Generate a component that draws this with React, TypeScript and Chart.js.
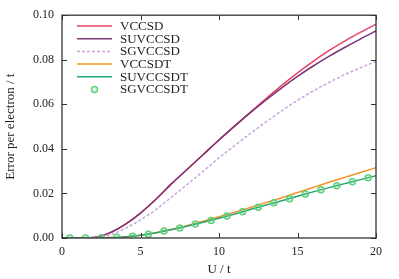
import React, { useEffect, useRef } from "react";
import { Chart, registerables } from "chart.js";

Chart.register(...registerables);

const U_LINE = [0, 1, 2, 3, 4, 5, 6, 7, 8, 9, 10, 11, 12, 13, 14, 15, 16, 17, 18, 19, 20];
const VCCSD = [0, 0, 0.0002, 0.0022, 0.006, 0.0112, 0.0175, 0.0245, 0.031, 0.0375, 0.044, 0.0503, 0.0565, 0.0626, 0.0685, 0.0741, 0.0793, 0.0841, 0.0884, 0.0923, 0.096];
const SUVCCSD = [0, 0, 0.0002, 0.0022, 0.006, 0.0112, 0.0175, 0.0245, 0.031, 0.0375, 0.044, 0.0502, 0.0563, 0.062, 0.0674, 0.0725, 0.0772, 0.0815, 0.0855, 0.0893, 0.0929];
const SGVCCSD = [0, 0, 0.0001, 0.0012, 0.0042, 0.0081, 0.0129, 0.0185, 0.0242, 0.03, 0.036, 0.0415, 0.0469, 0.0521, 0.0571, 0.0618, 0.066, 0.0698, 0.0733, 0.0764, 0.0792];
const VCCSDT = [0, 0, 0, 0.0002, 0.0005, 0.0012, 0.0024, 0.0039, 0.0056, 0.0075, 0.0095, 0.0116, 0.0137, 0.0159, 0.0181, 0.0204, 0.0227, 0.025, 0.0272, 0.0294, 0.0315];
const SUVCCSDT = [0, 0, 0, 0.0001, 0.0005, 0.0012, 0.0024, 0.0038, 0.0054, 0.0071, 0.0089, 0.0108, 0.0128, 0.0148, 0.0167, 0.0187, 0.0207, 0.0226, 0.0244, 0.0262, 0.028];
const U_PTS = [0.5, 1.5, 2.5, 3.5, 4.5, 5.5, 6.5, 7.5, 8.5, 9.5, 10.5, 11.5, 12.5, 13.5, 14.5, 15.5, 16.5, 17.5, 18.5, 19.5];
const SGVCCSDT = [0, 0, 0.0001, 0.0003, 0.0008, 0.0017, 0.0031, 0.0045, 0.0063, 0.0079, 0.0099, 0.0118, 0.0138, 0.0158, 0.0176, 0.0197, 0.0217, 0.0235, 0.0252, 0.027];

const X_TICKS = [0, 5, 10, 15, 20];
const Y_TICKS = [0, 0.02, 0.04, 0.06, 0.08, 0.1];

const FONT = "'Liberation Serif', 'DejaVu Serif', serif";
const TEXT = "#222";

const toXY = (xs: number[], ys: number[]) => xs.map((x, i) => ({ x, y: ys[i] }));

const frameAndLegend = {
  id: "frameAndLegend",
  afterDraw(chart: any) {
    const { ctx, chartArea: a, scales } = chart;
    const xs = scales.x;
    const ys = scales.y;
    ctx.save();
    ctx.strokeStyle = "#333";
    ctx.lineWidth = 1.3;
    ctx.strokeRect(a.left, a.top, a.right - a.left, a.bottom - a.top);
    ctx.lineWidth = 1;
    const tl = 5;
    ctx.beginPath();
    X_TICKS.forEach((v) => {
      const px = Math.round(xs.getPixelForValue(v)) + 0.5;
      ctx.moveTo(px, a.bottom);
      ctx.lineTo(px, a.bottom - tl);
      ctx.moveTo(px, a.top);
      ctx.lineTo(px, a.top + tl);
    });
    Y_TICKS.forEach((v) => {
      const py = Math.round(ys.getPixelForValue(v)) + 0.5;
      ctx.moveTo(a.left, py);
      ctx.lineTo(a.left + tl, py);
      ctx.moveTo(a.right, py);
      ctx.lineTo(a.right - tl, py);
    });
    ctx.stroke();

    // legend
    const x0 = 77, x1 = 112, tx = 120, y0 = 26, dy = 12.7;
    ctx.font = `13px ${FONT}`;
    ctx.textBaseline = "middle";
    ctx.textAlign = "left";
    chart.data.datasets.forEach((ds: any, i: number) => {
      const y = y0 + dy * i;
      if (ds.showLine === false) {
        ctx.beginPath();
        ctx.setLineDash([]);
        ctx.lineWidth = ds.borderWidth;
        ctx.strokeStyle = ds.borderColor;
        ctx.fillStyle = ds.backgroundColor;
        ctx.arc((x0 + x1) / 2, y, ds.pointRadius, 0, Math.PI * 2);
        ctx.fill();
        ctx.stroke();
      } else {
        ctx.beginPath();
        ctx.setLineDash(ds.borderDash || []);
        ctx.lineWidth = ds.borderWidth;
        ctx.strokeStyle = ds.borderColor;
        ctx.moveTo(x0, y);
        ctx.lineTo(x1, y);
        ctx.stroke();
      }
      ctx.setLineDash([]);
      ctx.fillStyle = TEXT;
      ctx.fillText(ds.label, tx, y + 0.5);
    });
    ctx.restore();
  },
};

export default function App() {
  const ref = useRef<HTMLCanvasElement | null>(null);
  useEffect(() => {
    if (!ref.current) return;
    const line = (label: string, ys: number[], color: string, order: number, dash?: number[]) => ({
      label,
      data: toXY(U_LINE, ys),
      borderColor: color,
      backgroundColor: color,
      borderWidth: 1.5,
      borderDash: dash || [],
      pointRadius: 0,
      fill: false,
      cubicInterpolationMode: "monotone" as const,
      order,
    });
    const chart = new Chart(ref.current, {
      type: "line",
      data: {
        datasets: [
          line("VCCSD", VCCSD, "#e8426a", 5),
          line("SUVCCSD", SUVCCSD, "#7d3573", 4),
          line("SGVCCSD", SGVCCSD, "#c9a3e0", 6, [3, 2]),
          line("VCCSDT", VCCSDT, "#f59322", 3),
          line("SUVCCSDT", SUVCCSDT, "#23a574", 2),
          {
            label: "SGVCCSDT",
            data: toXY(U_PTS, SGVCCSDT),
            showLine: false,
            borderColor: "#5fd07c",
            backgroundColor: "rgba(95,208,124,0.2)",
            borderWidth: 1.5,
            pointRadius: 3,
            order: 0,
          } as any,
        ],
      },
      options: {
        responsive: false,
        animation: false,
        layout: { padding: { top: 15, right: 23, left: 0, bottom: 0 } },
        plugins: { legend: { display: false }, tooltip: { enabled: false } },
        scales: {
          x: {
            type: "linear",
            min: 0,
            max: 20,
            afterFit: (s: any) => { s.height = 41; },
            afterBuildTicks: (s: any) => { s.ticks = X_TICKS.map((v) => ({ value: v })); },
            grid: { display: false, drawTicks: false },
            border: { display: false },
            ticks: { color: TEXT, padding: 7, font: { family: FONT, size: 12 } },
            title: { display: true, text: "U / t", color: TEXT, padding: { top: 0, bottom: 2 }, font: { family: FONT, size: 13 } },
          },
          y: {
            type: "linear",
            min: 0,
            max: 0.1,
            afterFit: (s: any) => { s.width = 62; },
            afterBuildTicks: (s: any) => { s.ticks = Y_TICKS.map((v) => ({ value: v })); },
            grid: { display: false, drawTicks: false },
            border: { display: false },
            ticks: { color: TEXT, padding: 8, font: { family: FONT, size: 12 }, callback: (v: any) => Number(v).toFixed(2) },
            title: { display: true, text: "Error per electron / t", color: TEXT, padding: { top: 3, bottom: 0 }, font: { family: FONT, size: 13 } },
          },
        },
      },
      plugins: [frameAndLegend],
    });
    return () => chart.destroy();
  }, []);
  return (
    <div style={{ position: "fixed", left: 0, top: 0, width: 399, height: 279, background: "#fff" }}>
      <canvas ref={ref} width={399} height={279} />
    </div>
  );
}
